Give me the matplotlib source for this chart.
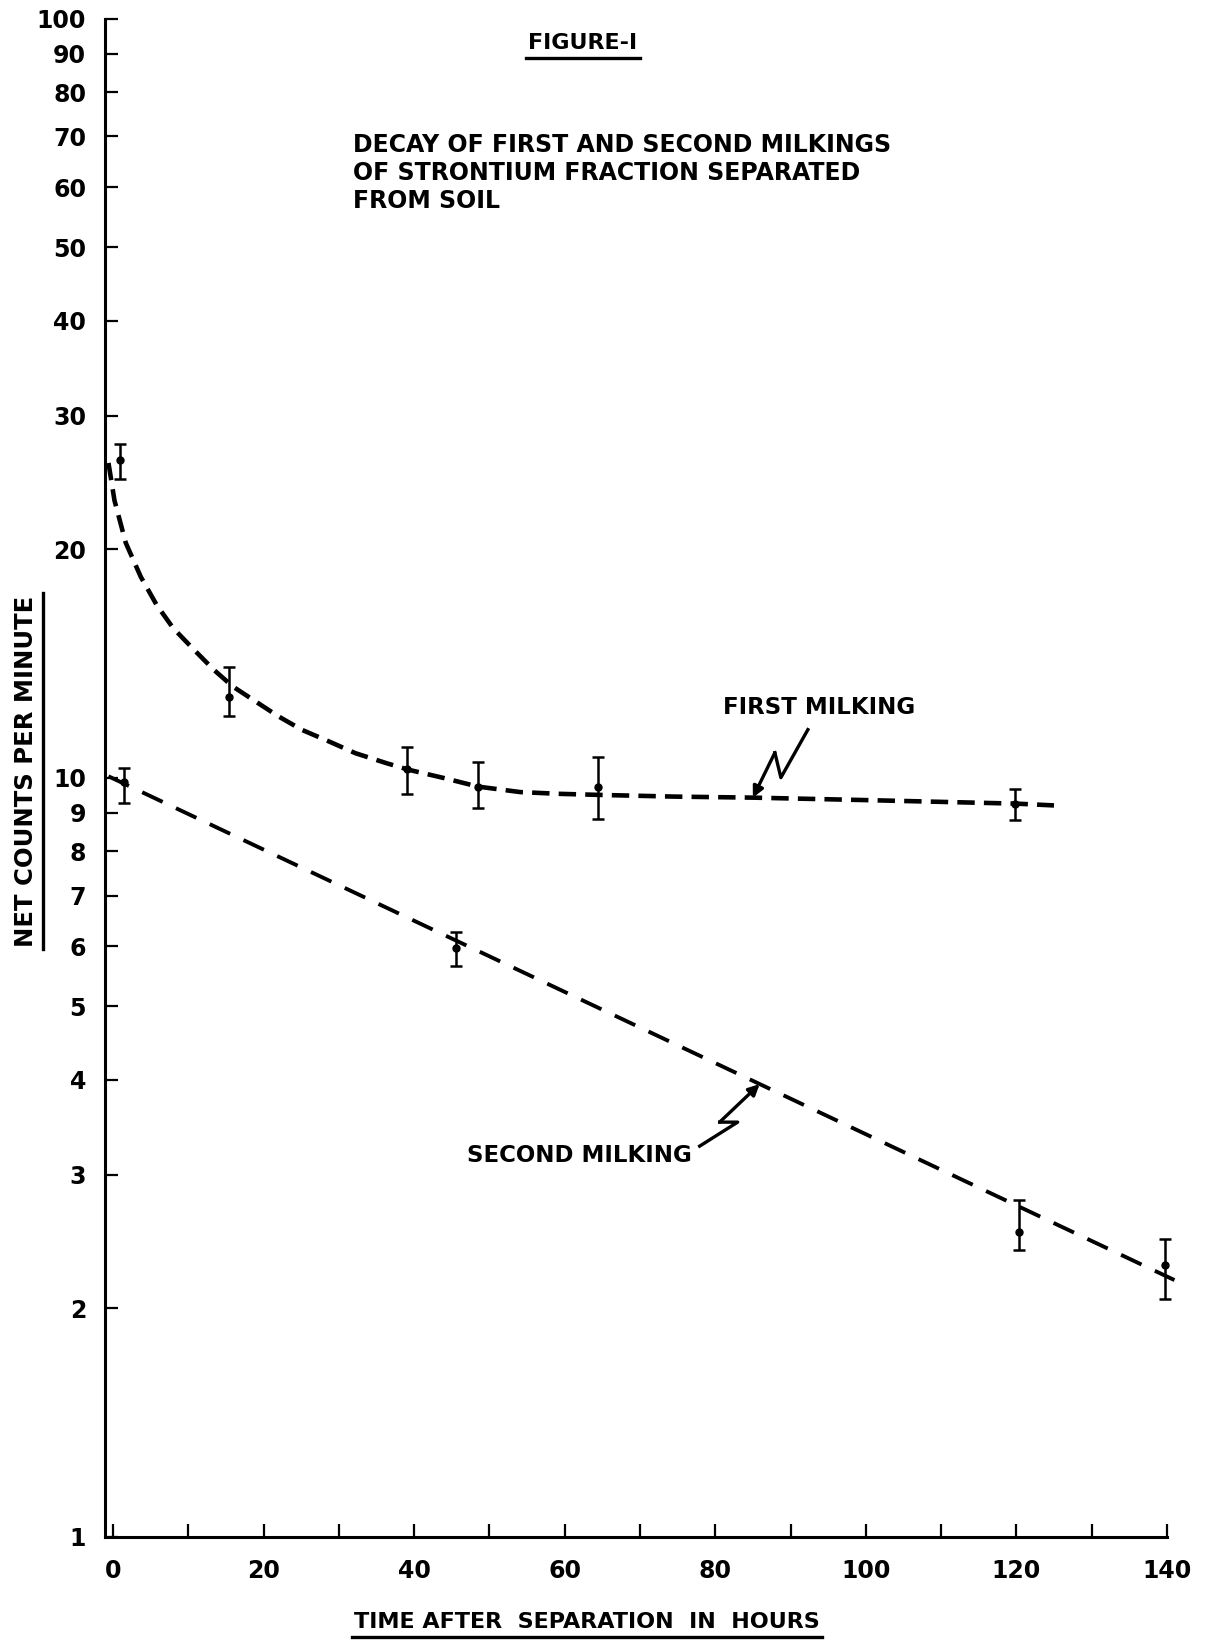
import matplotlib
matplotlib.use("Agg")
import matplotlib.pyplot as plt
import matplotlib.ticker as mticker
import matplotlib.transforms as mtransforms
from matplotlib.lines import Line2D

plt.rcParams["font.family"] = ["DejaVu Sans"]
plt.rcParams["font.weight"] = "bold"

# --- datos ---
# curva ajustada, primer ordeñe
curva1_horas = [-0.6, 0.2, 1.7, 3.7, 5.8, 8.0, 10.8, 13.4, 15.9, 19.0, 22.0, 25.1,
                28.7, 32.2, 36.3, 39.3, 43.9, 48.5, 54.1, 59.2, 64.3, 74.5, 85.0,
                100.0, 120.0, 125.0]
curva1_cpm = [26.0, 23.2, 20.4, 18.4, 16.9, 15.75, 14.74, 13.88, 13.2, 12.6, 12.05,
              11.57, 11.17, 10.78, 10.46, 10.25, 10.0, 9.74, 9.58, 9.53, 9.50, 9.45,
              9.42, 9.35, 9.25, 9.2]

# puntos medidos, primer ordeñe
p1_horas = [0.9, 15.4, 39.1, 48.5, 64.4, 119.8]
p1_cpm = [26.2, 12.8, 10.27, 9.74, 9.72, 9.25]
p1_sup = [27.5, 14.0, 11.0, 10.49, 10.64, 9.66]
p1_inf = [24.8, 12.08, 9.52, 9.14, 8.83, 8.81]

# recta ajustada, segundo ordeñe
recta2_horas = [-0.6, 141.0]
recta2_cpm = [10.05, 2.18]

# puntos medidos, segundo ordeñe
p2_horas = [1.5, 45.6, 120.4, 139.8]
p2_cpm = [9.87, 5.97, 2.52, 2.28]
p2_sup = [10.3, 6.26, 2.78, 2.47]
p2_inf = [9.27, 5.66, 2.39, 2.06]

y_ticks = [1, 2, 3, 4, 5, 6, 7, 8, 9, 10, 20, 30, 40, 50, 60, 70, 80, 90, 100]
x_ticks = [0, 20, 40, 60, 80, 100, 120, 140]
x_menores = [10, 30, 50, 70, 90, 110, 130]

# flechas "rayo" (desplazamientos en pixeles desde el punto señalado)
flecha1_punto = (85.0, 9.42)
flecha1_zigzag = [(0, 0), (22, -45), (28, -20), (55, -68)]
flecha2_punto = (85.9, 3.95)
flecha2_zigzag = [(0, 0), (-40, 38), (-22, 38), (-60, 62)]

fig = plt.figure(figsize=(12.08, 16.44), dpi=100)
ax = fig.add_axes([0.0873, 0.0651, 0.8787, 0.9234])
ax.set_yscale("log")
ax.set_ylim(1, 100)
ax.set_xlim(-1, 140)

for lado in ["top", "right"]:
    ax.spines[lado].set_visible(False)
for lado in ["left", "bottom"]:
    ax.spines[lado].set_linewidth(2.2)

ax.yaxis.set_major_locator(mticker.FixedLocator(y_ticks))
ax.yaxis.set_major_formatter(mticker.FixedFormatter([str(v) for v in y_ticks]))
ax.yaxis.set_minor_locator(mticker.NullLocator())
ax.xaxis.set_major_locator(mticker.FixedLocator(x_ticks))
ax.xaxis.set_minor_locator(mticker.FixedLocator(x_menores))
ax.tick_params(axis="both", which="both", direction="in", length=9.5, width=1.6,
               labelsize=17)
ax.tick_params(axis="y", pad=14)
ax.tick_params(axis="x", pad=16)

# curvas
ax.plot(curva1_horas, curva1_cpm, color="k", lw=3.3, dashes=(3.8, 2.0),
        clip_on=False)
ax.plot(recta2_horas, recta2_cpm, color="k", lw=2.8, dashes=(5.8, 3.8),
        clip_on=False)

# puntos con barras de error
for xs, ys, sup, inf in [(p1_horas, p1_cpm, p1_sup, p1_inf),
                         (p2_horas, p2_cpm, p2_sup, p2_inf)]:
    err = [[y - i for y, i in zip(ys, inf)], [s - y for y, s in zip(ys, sup)]]
    cont = ax.errorbar(xs, ys, yerr=err, fmt="o", ms=5, color="k",
                       capsize=4.5, elinewidth=1.8, capthick=1.8)
    for art in cont.get_children():
        art.set_clip_on(False)

# etiquetas de las curvas
ax.text(93.8, 12.4, "FIRST MILKING", fontsize=16.5, ha="center", va="center")
ax.text(62.0, 3.18, "SECOND MILKING", fontsize=16.5, ha="center", va="center")

# textos de la figura
t_fig = fig.text(583 / 1208, 1 - 43 / 1644, "FIGURE-I", fontsize=16,
                 ha="center", va="center")
fig.text(353 / 1208, 1 - 133 / 1644,
         "DECAY OF FIRST AND SECOND MILKINGS\n"
         "OF STRONTIUM FRACTION SEPARATED\n"
         "FROM SOIL",
         fontsize=17, ha="left", va="top", linespacing=1.22)
t_x = fig.text(587 / 1208, 1 - 1622 / 1644, "TIME AFTER  SEPARATION  IN  HOURS",
               fontsize=16, ha="center", va="center")
t_y = fig.text(26 / 1208, 1 - 771 / 1644, "NET COUNTS PER MINUTE",
               fontsize=17.5, ha="center", va="center", rotation=90)

fig.canvas.draw()
renderer = fig.canvas.get_renderer()
ident = mtransforms.IdentityTransform()

# subrayados
for t in [t_fig, t_x]:
    bb = t.get_window_extent(renderer)
    fig.add_artist(Line2D([bb.x0 - 2, bb.x1 + 2], [bb.y0 - 5, bb.y0 - 5],
                          transform=ident, color="k", lw=2.4))
bb = t_y.get_window_extent(renderer)
fig.add_artist(Line2D([bb.x1 + 5, bb.x1 + 5], [bb.y0 - 2, bb.y1 + 2],
                      transform=ident, color="k", lw=2.4))


def rayo(punto, zigzag):
    tx, ty = ax.transData.transform(punto)
    xs = [tx + dx for dx, dy in zigzag]
    ys = [ty - dy for dx, dy in zigzag]
    fig.add_artist(Line2D(xs[1:], ys[1:], transform=ident, color="k", lw=2.4))
    ax.annotate("", xy=punto, xycoords="data", xytext=(xs[1], ys[1]),
                textcoords="figure pixels",
                arrowprops=dict(arrowstyle="-|>", color="k", lw=2.4,
                                mutation_scale=16, shrinkA=0, shrinkB=0))


rayo(flecha1_punto, flecha1_zigzag)
rayo(flecha2_punto, flecha2_zigzag)

fig.savefig("out.png", dpi=100, facecolor="white")
